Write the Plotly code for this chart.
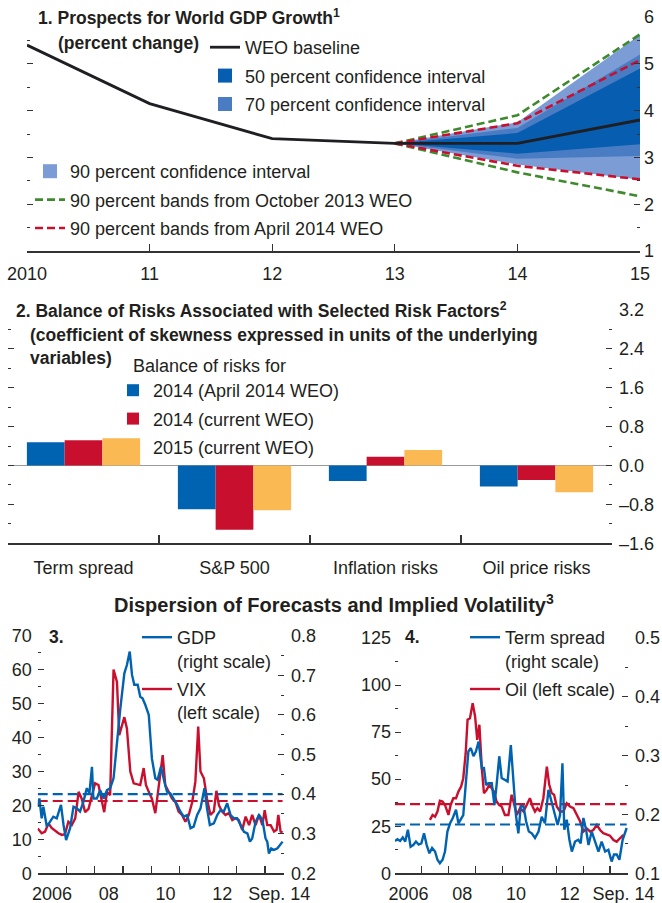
import plotly.graph_objects as go

W, H = 662, 903
def px(x):
    return x / W
def py(y):
    return 1 - y / H

FONT = "Liberation Sans, Arial, sans-serif"
TXT = "#231f20"
AX = "#333333"

# ---------------- Panel 1 data ----------------
years = [2010, 2011, 2012, 2013, 2014, 2015]
year_labels = ["2010", "11", "12", "13", "14", "15"]
weo_baseline = [5.4, 4.15, 3.4, 3.3, 3.3, 3.8]
fan_years = [2013, 2014, 2015]
ci90_lo = [3.3, 2.85, 2.52]
ci90_hi = [3.3, 3.75, 5.62]
ci70_lo = [3.3, 2.97, 3.03]
ci70_hi = [3.3, 3.63, 5.2]
ci50_lo = [3.3, 3.08, 3.28]
ci50_hi = [3.3, 3.52, 4.9]
oct13_lo = [3.3, 2.68, 2.17]
oct13_hi = [3.3, 3.9, 5.63]
apr14_lo = [3.3, 2.82, 2.53]
apr14_hi = [3.3, 3.73, 5.08]

# ---------------- Panel 2 data ----------------
risk_factors = ["Term spread", "S&P 500", "Inflation risks", "Oil price risks"]
risk_x = [0, 1, 2, 3]
bal_2014_apr = [0.48, -0.90, -0.32, -0.43]
bal_2014_cur = [0.52, -1.32, 0.18, -0.30]
bal_2015_cur = [0.56, -0.92, 0.32, -0.55]
p2_ticks = [3.2, 2.4, 1.6, 0.8, 0.0, -0.8, -1.6]
p2_ticktext = ["3.2", "2.4", "1.6", "0.8", "0.0", "\u20130.8", "\u20131.6"]

# ---------------- Panel 3 data ----------------
vix_t = [2006.00, 2006.14, 2006.26, 2006.38, 2006.49, 2006.61, 2006.73, 2006.85, 2006.96,
         2007.08, 2007.20, 2007.32, 2007.44, 2007.55, 2007.67, 2007.79, 2007.91,
         2008.02, 2008.14, 2008.26, 2008.34, 2008.44, 2008.55, 2008.67, 2008.79, 2008.87, 2008.96,
         2009.05, 2009.14, 2009.26, 2009.38, 2009.49, 2009.61, 2009.73, 2009.81, 2009.91,
         2010.02, 2010.14, 2010.26, 2010.40, 2010.49, 2010.61, 2010.73, 2010.85, 2010.96,
         2011.08, 2011.20, 2011.32, 2011.44, 2011.55, 2011.65, 2011.73, 2011.85, 2011.96,
         2012.08, 2012.20, 2012.29, 2012.38, 2012.49, 2012.61, 2012.73, 2012.85, 2012.96,
         2013.08, 2013.20, 2013.32, 2013.44, 2013.55, 2013.67, 2013.79, 2013.91, 2013.99,
         2014.08, 2014.20, 2014.32, 2014.41, 2014.47, 2014.55, 2014.62]
vix = [13.2, 11.8, 12.3, 14.7, 13.4, 12.5, 11.8, 11.3, 11.5,
       15.2, 14.2, 16.2, 24.0, 22.0, 18.0, 19.0, 23.0,
       26.5, 26.0, 21.0, 18.0, 24.0, 23.0, 60.0, 56.4, 40.7, 43.7,
       46.0, 42.7, 30.0, 26.5, 26.2, 26.0, 31.0, 26.0, 24.0,
       22.0, 17.7, 25.0, 34.8, 26.0, 24.0, 22.0, 21.0, 18.2,
       17.2, 15.2, 17.2, 21.0, 27.0, 43.2, 30.0, 28.0, 22.0,
       17.2, 18.2, 24.3, 20.0, 18.2, 17.2, 17.7, 15.7, 16.2,
       15.7, 12.8, 16.7, 14.2, 17.2, 14.2, 17.2, 14.2, 18.6,
       14.2, 14.2, 12.3, 12.8, 17.2, 12.3, 12.0]
gdp_t = [2006.00, 2006.06, 2006.14, 2006.20, 2006.32, 2006.44, 2006.55, 2006.67, 2006.82, 2006.91,
         2007.00, 2007.14, 2007.26, 2007.38, 2007.49, 2007.61, 2007.73, 2007.82, 2007.91, 2007.96,
         2008.08, 2008.20, 2008.32, 2008.44, 2008.55, 2008.67, 2008.79, 2008.91,
         2009.05, 2009.14, 2009.24, 2009.32, 2009.40, 2009.52, 2009.61, 2009.69, 2009.79, 2009.91,
         2010.02, 2010.14, 2010.22, 2010.34, 2010.46, 2010.55, 2010.67, 2010.79, 2010.91,
         2011.02, 2011.14, 2011.26, 2011.38, 2011.49, 2011.61, 2011.73, 2011.87, 2011.96,
         2012.06, 2012.20, 2012.32, 2012.44, 2012.55, 2012.67, 2012.79, 2012.91,
         2013.02, 2013.14, 2013.26, 2013.38, 2013.47, 2013.55, 2013.67, 2013.79, 2013.91,
         2014.02, 2014.08, 2014.14, 2014.22, 2014.32, 2014.44, 2014.62]
gdp = [0.368, 0.389, 0.339, 0.368, 0.318, 0.330, 0.343, 0.339, 0.373, 0.322,
       0.284, 0.314, 0.368, 0.364, 0.356, 0.381, 0.415, 0.402, 0.469, 0.389,
       0.389, 0.410, 0.389, 0.410, 0.415, 0.440, 0.532, 0.617,
       0.705, 0.726, 0.760, 0.701, 0.676, 0.676, 0.646, 0.642, 0.625, 0.600,
       0.490, 0.440, 0.436, 0.469, 0.431, 0.406, 0.402, 0.389, 0.373,
       0.356, 0.343, 0.347, 0.314, 0.318, 0.347, 0.364, 0.415, 0.364,
       0.322, 0.326, 0.347, 0.360, 0.356, 0.377, 0.347, 0.339,
       0.339, 0.322, 0.305, 0.301, 0.280, 0.288, 0.330, 0.347, 0.335,
       0.288, 0.280, 0.250, 0.263, 0.259, 0.263, 0.280]
vix_avg = 21.3
gdp_avg = 0.40

# ---------------- Panel 4 data ----------------
oil_t = [2007.30, 2007.40, 2007.49, 2007.58, 2007.67, 2007.77, 2007.86, 2007.99,
         2008.07, 2008.17, 2008.27, 2008.36, 2008.46, 2008.54, 2008.63, 2008.70, 2008.79, 2008.89, 2008.98,
         2009.06, 2009.14, 2009.23, 2009.31, 2009.41, 2009.51, 2009.60, 2009.68, 2009.78, 2009.88, 2009.97,
         2010.09, 2010.22, 2010.34, 2010.44, 2010.53, 2010.65, 2010.78, 2010.90,
         2011.02, 2011.12, 2011.21, 2011.30, 2011.40, 2011.52, 2011.65, 2011.74, 2011.83, 2011.92,
         2012.02, 2012.14, 2012.27, 2012.39, 2012.51, 2012.64, 2012.76, 2012.89,
         2013.01, 2013.13, 2013.26, 2013.38, 2013.51, 2013.63, 2013.75, 2013.88,
         2014.00, 2014.13, 2014.25, 2014.37, 2014.50]
oil = [28.4, 31.0, 30.1, 32.8, 38.5, 38.1, 36.3, 31.0,
       36.3, 39.9, 39.9, 43.4, 46.1, 50.5, 63.8, 81.6, 82.4, 90.4, 83.3,
       70.9, 78.9, 55.9, 42.6, 44.3, 47.0, 45.2, 43.4, 38.1, 36.3, 35.5,
       31.0, 31.0, 41.7, 36.3, 31.0, 34.6, 32.8, 36.3,
       39.9, 35.5, 32.8, 34.6, 32.8, 39.9, 56.7, 47.0, 42.6, 41.7,
       35.5, 32.8, 32.8, 37.2, 35.5, 34.6, 31.0, 27.5,
       22.2, 23.9, 22.2, 23.0, 25.7, 23.0, 21.3, 20.4,
       20.0, 17.7, 16.8, 18.6, 20.4]
ts_t = [2006.00, 2006.09, 2006.19, 2006.29, 2006.38, 2006.48, 2006.58, 2006.68, 2006.78, 2006.88, 2006.98,
        2007.08, 2007.18, 2007.28, 2007.38, 2007.49, 2007.58, 2007.67, 2007.77, 2007.86, 2007.95,
        2008.05, 2008.15, 2008.27, 2008.36, 2008.46, 2008.54, 2008.63, 2008.73, 2008.82, 2008.92,
        2009.01, 2009.11, 2009.23, 2009.31, 2009.39, 2009.47, 2009.60, 2009.70, 2009.78, 2009.88, 2009.97,
        2010.09, 2010.19, 2010.31, 2010.40, 2010.50, 2010.59, 2010.68, 2010.78, 2010.88, 2010.98,
        2011.09, 2011.21, 2011.34, 2011.46, 2011.58, 2011.71, 2011.83, 2011.96,
        2012.05, 2012.14, 2012.23, 2012.30, 2012.39, 2012.49, 2012.58, 2012.70, 2012.82, 2012.91,
        2013.01, 2013.11, 2013.20, 2013.32, 2013.44, 2013.57, 2013.69, 2013.82, 2013.94,
        2014.06, 2014.15, 2014.25, 2014.35, 2014.47, 2014.62]
term_spread = [0.155, 0.158, 0.155, 0.161, 0.154, 0.174, 0.145, 0.148, 0.154, 0.149, 0.151,
               0.168, 0.148, 0.134, 0.143, 0.137, 0.123, 0.117, 0.123, 0.137, 0.171,
               0.185, 0.194, 0.208, 0.185, 0.194, 0.199, 0.250, 0.307, 0.313, 0.299,
               0.307, 0.324, 0.279, 0.279, 0.250, 0.253, 0.253, 0.216, 0.250, 0.299, 0.262,
               0.259, 0.256, 0.318, 0.256, 0.199, 0.168, 0.214, 0.214, 0.188, 0.171,
               0.168, 0.160, 0.171, 0.196, 0.185, 0.242, 0.222, 0.199,
               0.182, 0.199, 0.287, 0.174, 0.191, 0.157, 0.137, 0.154, 0.157, 0.151,
               0.194, 0.174, 0.148, 0.171, 0.154, 0.137, 0.154, 0.137, 0.140,
               0.120, 0.132, 0.132, 0.123, 0.157, 0.177]
oil_avg = 36.7
ts_avg = 0.183

ts_range = [2006, 2014.67]
ts_tickvals = [2006.5, 2008.5, 2010.5, 2012.5, 2014.5]
ts_ticktext = ["2006", "08", "10", "12", "Sep. 14"]

# colours
C_LIGHT = "#7c9cd6"
C_MED = "#4a7cc4"
C_DARK = "#075db0"
C_GREEN = "#3f8a2f"
C_RED = "#c8102e"
C_BLUE = "#0063b1"
C_YEL = "#fbb954"
C_BLK = "#1f1f23"

fig = go.Figure()

# ---- Panel 1 traces ----
for lo, hi, col in [(ci90_lo, ci90_hi, C_LIGHT), (ci70_lo, ci70_hi, C_MED), (ci50_lo, ci50_hi, C_DARK)]:
    fig.add_trace(go.Scatter(x=fan_years, y=lo, mode="lines", line=dict(width=0, color=col),
                             showlegend=False, hoverinfo="skip", xaxis="x", yaxis="y"))
    fig.add_trace(go.Scatter(x=fan_years, y=hi, mode="lines", line=dict(width=0, color=col),
                             fill="tonexty", fillcolor=col, showlegend=False, hoverinfo="skip",
                             xaxis="x", yaxis="y"))

for lo, hi, col, name, rank in [(oct13_lo, oct13_hi, C_GREEN, "90 percent bands from October 2013 WEO", 5),
                                (apr14_lo, apr14_hi, C_RED, "90 percent bands from April 2014 WEO", 6)]:
    fig.add_trace(go.Scatter(x=fan_years, y=lo, mode="lines", line=dict(width=2.6, color=col, dash="8px,4px"),
                             name=name, legend="legend2", legendrank=rank, legendgroup=name,
                             xaxis="x", yaxis="y2"))
    fig.add_trace(go.Scatter(x=fan_years, y=hi, mode="lines", line=dict(width=2.6, color=col, dash="8px,4px"),
                             name=name, showlegend=False, legendgroup=name, xaxis="x", yaxis="y2"))

fig.add_trace(go.Scatter(x=years, y=weo_baseline, mode="lines", line=dict(width=2.8, color=C_BLK),
                         name="WEO baseline", legend="legend", legendrank=1, legendgroup="base",
                         xaxis="x", yaxis="y2"))

for name, col, lg, rank in [("50 percent confidence interval", C_DARK, "legend", 2),
                            ("70 percent confidence interval", C_MED, "legend", 3),
                            ("90 percent confidence interval", C_LIGHT, "legend2", 4)]:
    fig.add_trace(go.Scatter(x=[None], y=[None], mode="markers",
                             marker=dict(symbol="square", size=14, color=col, line=dict(width=0)),
                             name=name, legend=lg, legendrank=rank, legendgroup=name,
                             xaxis="x", yaxis="y"))

# ---- Panel 2 traces ----
for vals, col, name, rank in [(bal_2014_apr, C_BLUE, "2014 (April 2014 WEO)", 1),
                              (bal_2014_cur, C_RED, "2014 (current WEO)", 2),
                              (bal_2015_cur, C_YEL, "2015 (current WEO)", 3)]:
    fig.add_trace(go.Bar(x=risk_x, y=vals, marker=dict(color=col, line=dict(width=0)), name=name,
                         legend="legend3", legendrank=rank, legendgroup=name, xaxis="x2", yaxis="y3"))

# ---- Panel 3 traces ----
fig.add_trace(go.Scatter(x=vix_t, y=vix, mode="lines", line=dict(width=2.4, color=C_RED),
                         name="VIX<br>(left scale)", legend="legend4", legendrank=2, legendgroup="vix",
                         xaxis="x3", yaxis="y5"))
fig.add_trace(go.Scatter(x=[gdp_t[0], gdp_t[-1]], y=[vix_avg, vix_avg], mode="lines",
                         line=dict(width=2.2, color=C_RED, dash="10px,5px"), showlegend=False,
                         xaxis="x3", yaxis="y5"))
fig.add_trace(go.Scatter(x=gdp_t, y=gdp, mode="lines", line=dict(width=2.4, color=C_BLUE),
                         name="GDP<br>(right scale)", legend="legend4", legendrank=1, legendgroup="gdp",
                         xaxis="x3", yaxis="y6"))
fig.add_trace(go.Scatter(x=[gdp_t[0], gdp_t[-1]], y=[gdp_avg, gdp_avg], mode="lines",
                         line=dict(width=2.2, color=C_BLUE, dash="10px,5px"), showlegend=False,
                         xaxis="x3", yaxis="y6"))

# ---- Panel 4 traces ----
fig.add_trace(go.Scatter(x=oil_t, y=oil, mode="lines", line=dict(width=2.4, color=C_RED),
                         name="Oil (left scale)", legend="legend5", legendrank=2, legendgroup="oil",
                         xaxis="x4", yaxis="y7"))
fig.add_trace(go.Scatter(x=[ts_t[0], ts_t[-1]], y=[oil_avg, oil_avg], mode="lines",
                         line=dict(width=2.2, color=C_RED, dash="10px,5px"), showlegend=False,
                         xaxis="x4", yaxis="y7"))
fig.add_trace(go.Scatter(x=ts_t, y=term_spread, mode="lines", line=dict(width=2.4, color=C_BLUE),
                         name="Term spread<br>(right scale)", legend="legend5", legendrank=1, legendgroup="ts",
                         xaxis="x4", yaxis="y8"))
fig.add_trace(go.Scatter(x=[ts_t[0], ts_t[-1]], y=[ts_avg, ts_avg], mode="lines",
                         line=dict(width=2.2, color=C_BLUE, dash="10px,5px"), showlegend=False,
                         xaxis="x4", yaxis="y8"))

TF = dict(family=FONT, size=18, color=TXT)

def yax(domain, rng, dtick, minor, side="left", labels=False, overlay=None, anchor="x",
        tickvals=None, ticktext=None, tickformat=None, standoff=4, zeroline=False, mirror=False):
    d = dict(domain=domain, range=rng, side=side, anchor=anchor, ticks="inside", ticklen=6,
             tickwidth=1, tickcolor=AX, dtick=dtick, tick0=0,
             minor=dict(dtick=minor, ticks="inside", ticklen=3, tickwidth=1, tickcolor=AX),
             showticklabels=labels, showgrid=False, zeroline=zeroline, showline=False,
             tickfont=TF, fixedrange=True, ticklabelstandoff=standoff, mirror=mirror,
             automargin=False)
    if overlay:
        d["overlaying"] = overlay
    if tickvals is not None:
        d["tickmode"] = "array"
        d["tickvals"] = tickvals
        d["ticktext"] = ticktext
        d["minor"]["tickmode"] = "linear"
        d["minor"]["tick0"] = 0
    if tickformat:
        d["tickformat"] = tickformat
    return d

def xax(domain, rng, anchor, tickvals, ticktext, minor=None, standoff=4, ticklen=0):
    d = dict(domain=domain, range=rng, anchor=anchor, tickmode="array", tickvals=tickvals,
             ticktext=ticktext, ticks="inside", ticklen=ticklen, tickcolor=AX, tickwidth=1.2,
             showline=True, linecolor=AX, linewidth=1.5, showgrid=False, zeroline=False,
             tickfont=TF, fixedrange=True, ticklabelstandoff=standoff, automargin=False)
    if minor:
        d["minor"] = minor
    return d

p1_dom = [py(251), py(17)]
p2_dom = [py(543.3), py(310)]
p3_dom = [py(873.3), py(635.7)]
p4_dom = [py(873.3), py(638)]

LEG = dict(xanchor="left", yanchor="top", bgcolor="rgba(0,0,0,0)", borderwidth=0,
           font=dict(family=FONT, size=18, color=TXT), itemwidth=30, tracegroupgap=2,
           traceorder="grouped", itemclick=False, itemdoubleclick=False)

year_minor = dict(tick0=2006, dtick=1, ticks="inside", ticklen=7, tickcolor=AX, tickwidth=1.2)

fig.update_layout(
    template="none",
    width=W, height=H, margin=dict(l=0, r=0, t=0, b=0, pad=0, autoexpand=False),
    paper_bgcolor="white", plot_bgcolor="white",
    font=dict(family=FONT, size=18, color=TXT),
    barmode="group", bargap=0.25, bargroupgap=0,
    showlegend=True,
    xaxis=xax([px(27), px(640)], [2010, 2015], "y", years, year_labels, standoff=6, ticklen=7),
    yaxis=yax(p1_dom, [1, 6], 1, 0.5, anchor="x"),
    yaxis2=yax(p1_dom, [1, 6], 1, 0.5, side="right", labels=True, overlay="y", anchor="x", standoff=3),
    xaxis2=xax([px(8), px(612)], [-0.5, 3.5], "y3", risk_x, risk_factors, standoff=8,
               minor=dict(tickmode="array", tickvals=[0.5, 1.5, 2.5], ticks="inside", ticklen=8,
                          tickcolor=AX, tickwidth=1.2)),
    yaxis3=yax(p2_dom, [-1.6, 3.2], 0.8, 0.4, side="right", labels=True, anchor="x2", zeroline=True,
               tickvals=p2_ticks, ticktext=p2_ticktext, standoff=6, mirror="ticks"),
    xaxis3=xax([px(37.7), px(284)], ts_range, "y5", ts_tickvals, ts_ticktext, minor=year_minor),
    yaxis5=yax(p3_dom, [0, 70], 10, 5, anchor="x3", labels=True, standoff=5),
    yaxis6=yax(p3_dom, [0.2, 0.8], 0.1, 0.05, side="right", labels=True, overlay="y5", anchor="x3",
               tickformat=".1f", standoff=6),
    xaxis4=xax([px(395), px(628)], ts_range, "y7", ts_tickvals, ts_ticktext, minor=year_minor),
    yaxis7=yax(p4_dom, [0, 125], 25, 12.5, anchor="x4", labels=True, standoff=3),
    yaxis8=yax(p4_dom, [0.1, 0.5], 0.1, 0.05, side="right", labels=True, overlay="y7", anchor="x4",
               tickformat=".1f", standoff=6),
    legend=dict(LEG, x=px(205), y=py(29)),
    legend2=dict(LEG, x=px(30), y=py(153)),
    legend3=dict(LEG, x=px(113), y=py(372)),
    legend4=dict(LEG, x=px(137), y=py(619), valign="top"),
    legend5=dict(LEG, x=px(465), y=py(619), valign="top"),
)
fig.update_layout(yaxis3=dict(zerolinecolor="#9a9a9a", zerolinewidth=1.2))

BF = dict(family=FONT, size=17.5, color=TXT)
BF_BIG = dict(family=FONT, size=20, color=TXT)
anns = [
    ("<b>1. Prospects for World GDP Growth<sup>1</sup></b>", 36, 17, "left", BF),
    ("<b>(percent change)</b>", 56, 43, "left", BF),
    ("<b>2. Balance of Risks Associated with Selected Risk Factors<sup>2</sup></b>", 14, 310, "left", BF),
    ("<b>(coefficient of skewness expressed in units of the underlying</b>", 28, 335, "left", BF),
    ("<b>variables)</b>", 28, 358, "left", BF),
    ("Balance of risks for", 131, 366, "left", TF),
    ("<b>Dispersion of Forecasts and Implied Volatility<sup>3</sup></b>", 334, 603, "center", BF_BIG),
    ("<b>3.</b>", 47, 637, "left", BF),
    ("<b>4.</b>", 403, 637, "left", BF),
]
for text, x, y, xa, f in anns:
    fig.add_annotation(text=text, x=px(x), y=py(y), xref="paper", yref="paper",
                       xanchor=xa, yanchor="middle", showarrow=False, font=f, align="left")

fig.write_html("out.html", config={"displayModeBar": False, "staticPlot": True},
               post_script="document.body.style.margin='0';document.body.style.overflow='hidden';")
